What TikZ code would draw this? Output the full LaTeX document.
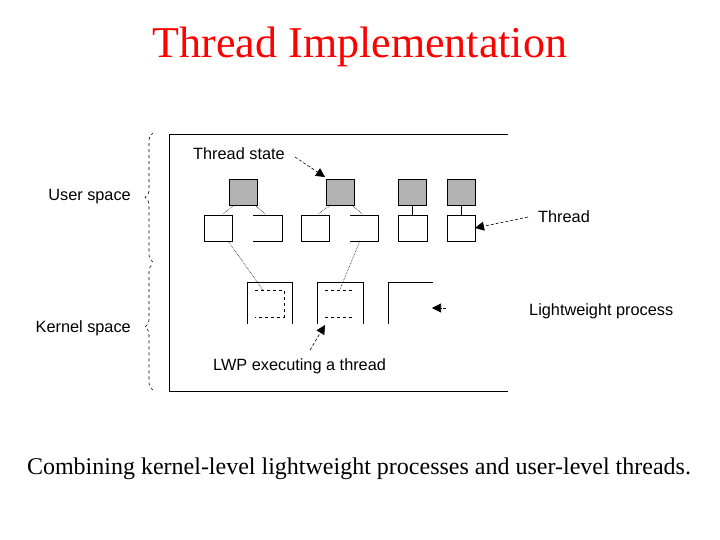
\documentclass[tikz,border=0pt]{standalone}
\usepackage{fontspec}
\setmainfont{Liberation Serif}
\newfontfamily\arial{Liberation Sans}
\usetikzlibrary{arrows.meta,decorations.pathreplacing}
\begin{document}
\begin{tikzpicture}[x=1pt,y=-1pt,
  lab/.style={font=\arial\fontsize{16.3}{18}\selectfont,inner sep=0pt},
  gray box/.style={fill=black!30,draw=black,line width=0.7pt},
  ln/.style={line width=0.7pt},
  dot/.style={densely dotted,line width=0.6pt},
  dsh/.style={dashed,line width=0.7pt},
  arr/.style={densely dashed,line width=0.6pt,-{Triangle[length=9pt,width=9pt]}}]
\useasboundingbox (0,0) rectangle (720,540);
\node[font=\fontsize{44}{48}\selectfont,text=red,inner sep=0pt] (title) at (360,47) {Thread Implementation};
\node[font=\fontsize{24}{27}\selectfont,inner sep=0pt] (cap) at (359,469) {Combining kernel-level lightweight processes and user-level threads.};
% frame
\draw[ln] (508,134) -- (169,134) -- (169,391) -- (508,391);
% braces
\draw[dashed,line width=0.6pt,decorate,decoration={brace,amplitude=8pt}] (153,262) -- (153,133);
\draw[dashed,line width=0.6pt,decorate,decoration={brace,amplitude=8pt}] (153,390) -- (153,264);
\node[lab,anchor=east] (us) at (131,197) {User space};
\node[lab,anchor=east] (ks) at (131,328) {Kernel space};
% gray thread states
\foreach \n/\x in {1/229,2/326,3/398,4/447}{
  \draw[gray box] (\x,179) rectangle ++(28,26);
  \coordinate (g\n) at (\x+14,205);}
% threads
\draw[ln] (204,215) rectangle (232,241);
\draw[ln] (253,215) -- (282,215) -- (282,241) -- (253,241);
\draw[ln] (301,215) rectangle (329,241);
\draw[ln] (350,215) -- (378,215) -- (378,241) -- (350,241);
\draw[ln] (398,215) rectangle (427,241);
\draw[ln] (447,215) rectangle (475,241);
\coordinate (t6) at (475,228);
% connections
\draw[dot] (234,205) -- (223,214);
\draw[dot] (255,205) -- (265,214);
\draw[dot] (331,205) -- (318,214);
\draw[dot] (352,205) -- (362,214);
\draw[ln] (412,205) -- (412,215);
\draw[ln] (461,205) -- (461,215);
% LWPs
\draw[ln] (247,324) -- (247,282) -- (292,282) -- (292,324);
\draw[ln] (317,324) -- (317,282) -- (363,282) -- (363,324);
\draw[ln] (388,324) -- (388,282) -- (433,282);
\draw[dsh] (255,290) -- (284,290) -- (284,317) -- (255,317);
\draw[dsh] (325,290) -- (355,290);
\draw[dsh] (325,317) -- (355,317);
\draw[dot] (228,241) -- (263,290);
\draw[dot] (360,241) -- (340,289);
% labels and arrows
\node[lab,anchor=west] (ts) at (193,154) {Thread state};
\draw[arr] (ts.east) ++(10,3) -- (325,177);
\node[lab,anchor=west] (th) at (538,217) {Thread};
\draw[arr] (th.west) ++(-10,0) -- (t6);
\node[lab,anchor=west] (lwp) at (529,311) {Lightweight process};
\coordinate (la) at (432,308);
\draw[arr] (446,308) -- (la);
\node[lab,anchor=west] (le) at (213,366) {LWP executing a thread};
\draw[arr] (310,350) -- (325,325);
\end{tikzpicture}
\end{document}
